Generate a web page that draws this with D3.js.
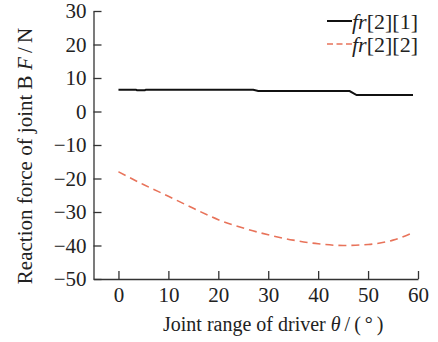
<!DOCTYPE html>
<html>
<head>
<meta charset="utf-8">
<script src="https://cdn.jsdelivr.net/npm/d3@7"></script>
<style>
  html, body { margin: 0; padding: 0; background: #fff; }
  svg { display: block; }
  svg text { font-family: "Liberation Serif", "Times New Roman", Times, serif; }
</style>
</head>
<body>
<svg id="chart" width="438" height="342"></svg>
<script>
// 数据：驱动关节角度与 B 关节反力
const thetaBlack = [0, 3.5, 3.7, 5.3, 5.5, 27, 28, 46.3, 47.7, 59];
const frBlack = [6.5, 6.5, 6.35, 6.35, 6.5, 6.5, 6.1, 6.1, 4.9, 4.9];
const thetaRed = [0, 5, 10, 15, 20, 25, 30, 35, 40, 45, 50, 55, 59];
const frRed = [-18, -21.8, -25.3, -28.9, -32.3, -34.8, -36.8, -38.4, -39.5, -40, -39.7, -38.4, -36.2];
const xTicks = [0, 10, 20, 30, 40, 50, 60];
const yTicks = [30, 20, 10, 0, -10, -20, -30, -40, -50];
const legendNames = [["fr", "[2][1]"], ["fr", "[2][2]"]];

const colors = { black: "#111", red: "#e8735a", axis: "#333", text: "#222" };
const serif = "'Liberation Serif', 'Times New Roman', serif";
const thin = "\u2009";

const svg = d3.select("#chart");
const x = d3.scaleLinear().domain([-5, 60]).range([93.5, 418]);
const y = d3.scaleLinear().domain([-50, 30]).range([279, 11]);

// 坐标轴
const xAxis = svg.append("g")
    .attr("transform", `translate(0,${y(-50)})`)
    .call(d3.axisBottom(x).tickValues(xTicks).tickSize(-8).tickSizeOuter(0).tickPadding(8).tickFormat(d3.format("d")));
const yAxis = svg.append("g")
    .attr("transform", `translate(${x(-5)},0)`)
    .call(d3.axisLeft(y).tickValues(yTicks).tickSize(-8).tickSizeOuter(0).tickPadding(7)
        .tickFormat(d => d < 0 ? "\u2212" + Math.abs(d) : d));

[xAxis, yAxis].forEach(a => {
    a.attr("font-family", serif).attr("font-size", null);
    a.selectAll("path, line").attr("stroke", colors.axis).attr("stroke-width", 1.3);
    a.selectAll("text")
        .attr("fill", colors.text)
        .style("font-family", serif)
        .style("font-size", "21px");
});
xAxis.selectAll("text").attr("dy", "0.71em");

// 坐标轴标题
const xt = svg.append("text")
    .attr("x", 163).attr("y", 331)
    .style("font-size", "20px").attr("fill", colors.text);
xt.append("tspan").text("Joint range of driver ");
xt.append("tspan").style("font-style", "italic").text("\u03b8");
xt.append("tspan").text(thin + "/" + thin + "(" + thin + "\u00b0" + thin + ")");

const yt = svg.append("text")
    .attr("transform", "translate(32,156) rotate(-90)")
    .attr("text-anchor", "middle")
    .style("font-size", "21px").attr("fill", colors.text);
yt.append("tspan").text("Reaction force of joint B ");
yt.append("tspan").style("font-style", "italic").text("F");
yt.append("tspan").text(thin + "/" + thin + "N");

// 曲线
const line = d3.line().x(d => x(d[0])).y(d => y(d[1]));
svg.append("path")
    .datum(d3.zip(thetaBlack, frBlack))
    .attr("d", line)
    .attr("fill", "none")
    .attr("stroke", colors.black)
    .attr("stroke-width", 2);
svg.append("path")
    .datum(d3.zip(thetaRed, frRed))
    .attr("d", d3.line().curve(d3.curveMonotoneX).x(d => x(d[0])).y(d => y(d[1])))
    .attr("fill", "none")
    .attr("stroke", colors.red)
    .attr("stroke-width", 1.6)
    .attr("stroke-dasharray", "8,5");

// 图例
const legend = svg.append("g").attr("transform", "translate(327,21)");
legendNames.forEach((n, i) => {
    const g = legend.append("g").attr("transform", `translate(0,${i * 23})`);
    g.append("line")
        .attr("x1", 0).attr("x2", 25)
        .attr("stroke", i === 0 ? colors.black : colors.red)
        .attr("stroke-width", i === 0 ? 2 : 1.6)
        .attr("stroke-dasharray", i === 0 ? null : "6,3.5");
    const t = g.append("text").attr("x", 25).attr("dy", "0.35em")
        .style("font-size", "22px").attr("fill", colors.text);
    t.append("tspan").style("font-style", "italic").text(n[0]);
    t.append("tspan").text(n[1]);
});
</script>
</body>
</html>
